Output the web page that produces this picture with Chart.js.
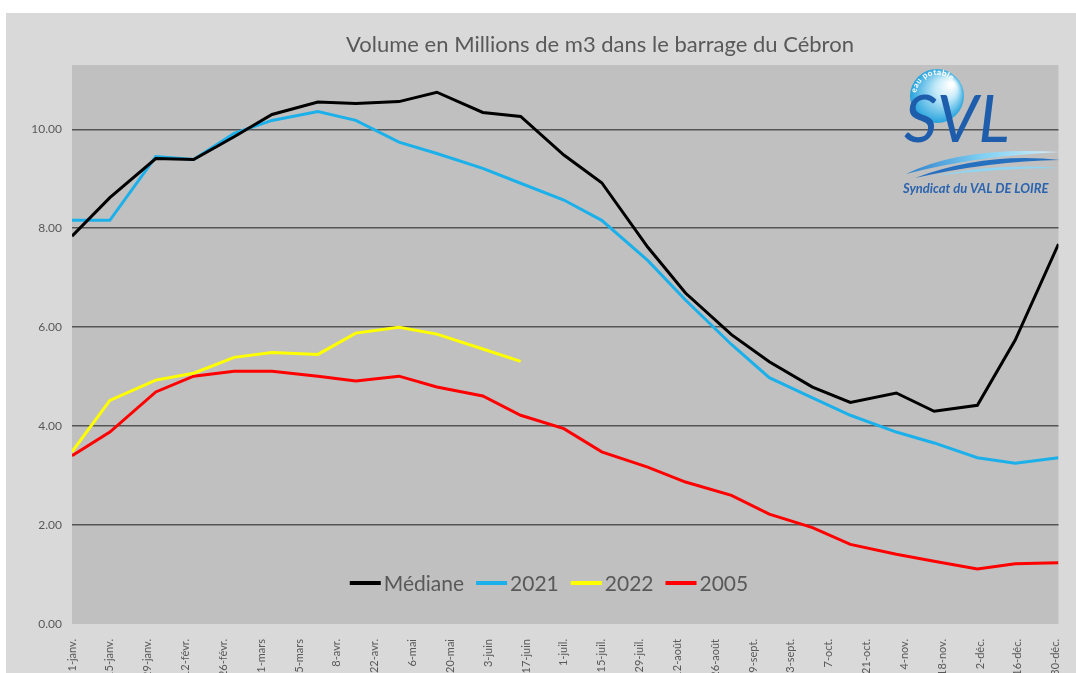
<!DOCTYPE html>
<html>
<head>
<meta charset="utf-8">
<script src="https://cdn.jsdelivr.net/npm/chart.js@4"></script>
<style>
html, body { margin: 0; padding: 0; background: #fff; width: 1076px; height: 673px; overflow: hidden; }
#wrap { position: absolute; left: 6px; top: 13px; width: 1070px; height: 661px; background: #d9d9d9; }
</style>
</head>
<body>
<div id="wrap"><canvas id="chart" width="1070" height="661"></canvas></div>
<script>
// axis labels, every 14 days (1 = 1 janv.)
const tickLabels = ['1-janv.', '15-janv.', '29-janv.', '12-févr.', '26-févr.', '11-mars', '25-mars',
    '8-avr.', '22-avr.', '6-mai', '20-mai', '3-juin', '17-juin', '1-juil.', '15-juil.', '29-juil.',
    '12-août', '26-août', '9-sept.', '23-sept.', '7-oct.', '21-oct.', '4-nov.', '18-nov.',
    '2-déc.', '16-déc.', '30-déc.'];
const yTicks = [0, 2, 4, 6, 8, 10];

// measures on the 1st and 15th of each month (day of year)
const pointDays = [1, 15, 32, 46, 61, 75, 92, 106, 122, 136, 153, 167, 183, 197, 214, 228,
    245, 259, 275, 289, 306, 320, 336, 350, 366];

const medianValues = [7.84, 8.62, 9.41, 9.39, 9.85, 10.30, 10.55, 10.52, 10.56, 10.75, 10.34, 10.26,
    9.48, 8.92, 7.62, 6.69, 5.85, 5.30, 4.79, 4.48, 4.67, 4.30, 4.42, 5.74, 7.68];
const values2021 = [8.16, 8.16, 9.45, 9.39, 9.92, 10.18, 10.36, 10.18, 9.74, 9.51, 9.21, 8.91,
    8.57, 8.16, 7.35, 6.55, 5.65, 4.98, 4.57, 4.22, 3.88, 3.66, 3.36, 3.25, 3.36];
const values2022 = [3.48, 4.52, 4.93, 5.07, 5.39, 5.49, 5.45, 5.88, 6.00, 5.86, 5.56, 5.31];
const values2005 = [3.40, 3.88, 4.69, 5.01, 5.11, 5.11, 5.01, 4.91, 5.01, 4.79, 4.61, 4.22,
    3.95, 3.48, 3.17, 2.87, 2.60, 2.22, 1.95, 1.61, 1.41, 1.27, 1.11, 1.22, 1.24];

const toPoints = vals => vals.map((v, i) => ({ x: pointDays[i], y: v }));

function serie(label, vals, color) {
    return {
        label: label,
        data: toPoints(vals),
        borderColor: color,
        backgroundColor: color,
        borderWidth: 3,
        pointRadius: 0,
        tension: 0
    };
}

const plotBackground = {
    id: 'plotBackground',
    beforeDraw(chart) {
        const { ctx, chartArea: a } = chart;
        ctx.save();
        ctx.fillStyle = '#c0c0c0';
        ctx.fillRect(a.left, a.top, a.right - a.left, a.bottom - a.top);
        ctx.restore();
    }
};

const titleAndLegend = {
    id: 'titleAndLegend',
    afterDraw(chart) {
        const ctx = chart.ctx;
        ctx.save();
        ctx.fillStyle = '#595959';
        ctx.textBaseline = 'middle';
        ctx.textAlign = 'center';
        ctx.font = '22px Lato';
        ctx.fillText('Volume en Millions de m3 dans le barrage du Cébron', 594, 32);

        // legend inside the plot, bottom
        ctx.textAlign = 'left';
        ctx.font = '21px Lato';
        const lineLen = 31, gapText = 3, gapItem = 12;
        const items = chart.data.datasets.map(d => ({
            label: d.label, color: d.borderColor, w: ctx.measureText(d.label).width
        }));
        const total = items.reduce((s, it) => s + lineLen + gapText + it.w, 0) + gapItem * (items.length - 1);
        let x = 543 - total / 2;
        const y = 570;
        items.forEach(it => {
            ctx.strokeStyle = it.color;
            ctx.lineWidth = 4;
            ctx.beginPath();
            ctx.moveTo(x, y);
            ctx.lineTo(x + lineLen, y);
            ctx.stroke();
            x += lineLen + gapText;
            ctx.fillStyle = '#595959';
            ctx.fillText(it.label, x, y + 1);
            x += it.w + gapItem;
        });
        ctx.restore();
    }
};

const logo = {
    id: 'logo',
    afterDraw(chart) {
        const ctx = chart.ctx;
        ctx.save();
        ctx.translate(-6, -13);
        // blue ball
        const g = ctx.createRadialGradient(952, 84, 2, 937, 96, 28);
        g.addColorStop(0, '#ffffff');
        g.addColorStop(0.35, '#c4eaf9');
        g.addColorStop(1, '#1e9fdb');
        ctx.fillStyle = g;
        ctx.beginPath();
        ctx.arc(937, 96, 27, 0, Math.PI * 2);
        ctx.fill();

        // "eau potable" round the ball
        ctx.font = 'bold 8px Lato';
        ctx.fillStyle = '#ffffff';
        ctx.textBaseline = 'alphabetic';
        const txt = 'eau potable';
        const r = 21;
        let ang = -Math.PI * 0.95;
        for (const ch of txt) {
            const w = ctx.measureText(ch).width;
            ctx.save();
            ctx.translate(937 + r * Math.cos(ang), 96 + r * Math.sin(ang));
            ctx.rotate(ang + Math.PI / 2);
            ctx.fillText(ch, 0, 0);
            ctx.restore();
            ang += (w + 0.4) / r;
        }

        // SVL
        ctx.font = 'italic 66px Lato';
        ctx.fillStyle = '#1d5dab';
        ctx.fillText('SVL', 904, 142);

        // waves
        const lg = ctx.createLinearGradient(905, 0, 1060, 0);
        lg.addColorStop(0, '#2b7fcb');
        lg.addColorStop(0.5, '#7fd0f2');
        lg.addColorStop(1, '#d8f1fb');
        ctx.fillStyle = lg;
        ctx.beginPath();
        ctx.moveTo(906, 174);
        ctx.quadraticCurveTo(962, 146, 1060, 152);
        ctx.quadraticCurveTo(975, 156, 906, 174);
        ctx.fill();
        ctx.fillStyle = '#2670c0';
        ctx.beginPath();
        ctx.moveTo(915, 178);
        ctx.quadraticCurveTo(985, 152, 1060, 160);
        ctx.quadraticCurveTo(990, 161, 915, 178);
        ctx.fill();
        ctx.fillStyle = '#8fd6f4';
        ctx.beginPath();
        ctx.moveTo(935, 176);
        ctx.quadraticCurveTo(1000, 163, 1058, 168);
        ctx.quadraticCurveTo(1000, 168, 935, 176);
        ctx.fill();

        ctx.font = 'italic bold 13px Lato';
        ctx.fillStyle = '#2b63ae';
        ctx.fillText('Syndicat du VAL DE LOIRE', 903, 193, 156);
        ctx.restore();
    }
};

const ctxEl = document.getElementById('chart');
new Chart(ctxEl, {
    type: 'line',
    data: {
        datasets: [
            serie('Médiane', medianValues, '#000000'),
            serie('2021', values2021, '#1cb0ea'),
            serie('2022', values2022, '#ffff00'),
            serie('2005', values2005, '#ff0000')
        ]
    },
    options: {
        responsive: false,
        animation: false,
        layout: { padding: { top: 52, right: 14, left: 0, bottom: 0 } },
        plugins: {
            legend: { display: false },
            title: { display: false },
            tooltip: { enabled: false }
        },
        scales: {
            x: {
                type: 'linear',
                min: 1,
                max: 366,
                afterBuildTicks: s => { s.ticks = tickLabels.map((l, i) => ({ value: 1 + 14 * i })); },
                afterFit: s => { s.height = 50; },
                ticks: {
                    autoSkip: false,
                    maxRotation: 90,
                    minRotation: 90,
                    padding: 7,
                    color: '#595959',
                    font: { size: 11, family: 'Lato' },
                    callback: (v, i) => tickLabels[i]
                },
                grid: { display: false },
                border: { display: false }
            },
            y: {
                min: 0,
                max: 11.3,
                afterBuildTicks: s => { s.ticks = yTicks.map(v => ({ value: v })); },
                afterFit: s => { s.width = 66; },
                ticks: {
                    padding: 10,
                    color: '#595959',
                    font: { size: 12, family: 'Lato' },
                    callback: v => v.toFixed(2)
                },
                grid: {
                    drawTicks: false,
                    color: c => c.tick && c.tick.value === 0 ? 'rgba(0,0,0,0)' : '#555555',
                    lineWidth: 1.5
                },
                border: { display: false }
            }
        }
    },
    plugins: [plotBackground, titleAndLegend, logo]
});
</script>
</body>
</html>
